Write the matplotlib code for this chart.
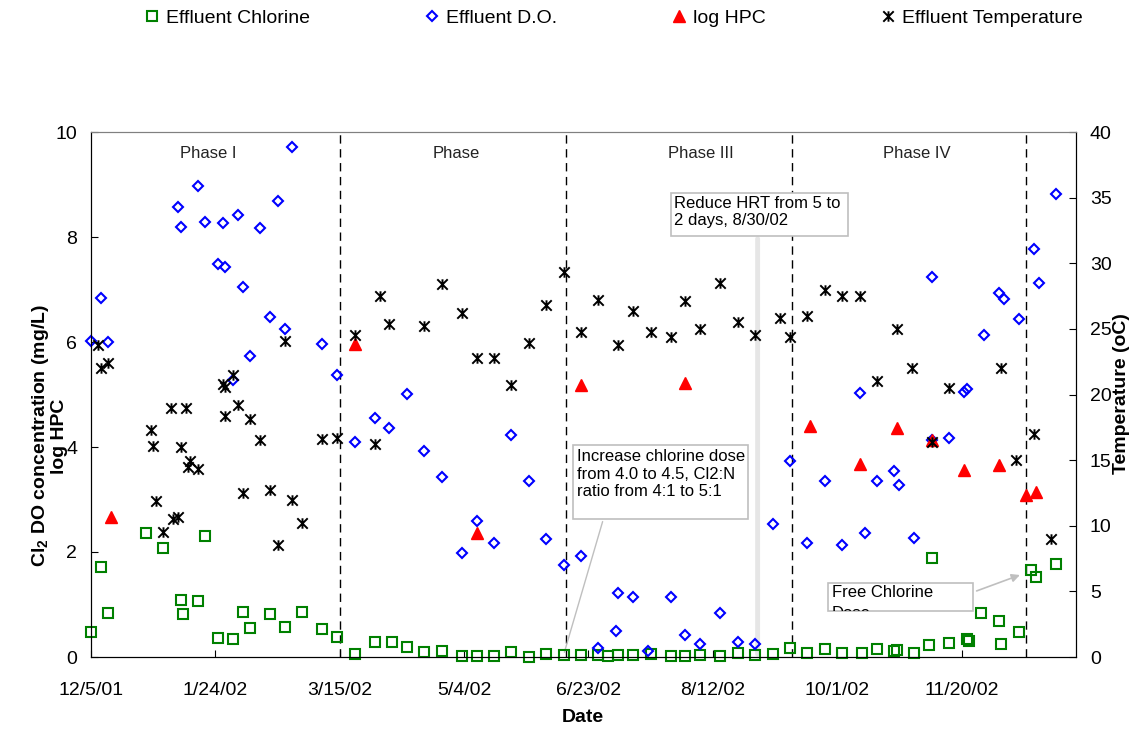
import matplotlib
matplotlib.use('Agg')
import matplotlib.pyplot as plt
from matplotlib.path import Path
from matplotlib.patches import Rectangle
from datetime import datetime

plt.rcParams['font.family'] = ['Liberation Sans', 'DejaVu Sans']
plt.rcParams['mathtext.fontset'] = 'custom'
plt.rcParams['mathtext.rm'] = 'Liberation Sans'
plt.rcParams['mathtext.bf'] = 'Liberation Sans:bold'

# days counted from 12/5/01
start = datetime(2001, 12, 5)
tick_labels = ['12/5/01', '1/24/02', '3/15/02', '5/4/02', '6/23/02', '8/12/02', '10/1/02', '11/20/02']
x_max_day = 396

# Effluent chlorine (mg/L)
chl_day = [0, 4, 7, 22, 29, 36, 37, 43, 46, 51, 57, 61, 64, 72, 78, 85, 93, 99, 106,
           114, 121, 127, 134, 141, 149, 155, 162, 169, 176, 183, 190, 197, 204, 208, 212,
           218, 225, 233, 239, 245, 253, 260, 267, 274, 281, 288, 295, 302, 310, 316, 323,
           324, 331, 337, 338, 345, 352, 353, 358, 365, 366, 373, 378, 380, 388]
chl_val = [0.48, 1.72, 0.84, 2.36, 2.08, 1.08, 0.82, 1.07, 2.30, 0.36, 0.34, 0.85, 0.56,
           0.81, 0.58, 0.86, 0.53, 0.38, 0.05, 0.29, 0.29, 0.20, 0.09, 0.12, 0.02, 0.02,
           0.02, 0.10, 0.00, 0.06, 0.03, 0.03, 0.03, 0.01, 0.03, 0.04, 0.06, 0.02, 0.02,
           0.04, 0.02, 0.07, 0.03, 0.06, 0.18, 0.07, 0.16, 0.07, 0.08, 0.15, 0.11, 0.13,
           0.08, 0.22, 1.89, 0.26, 0.34, 0.30, 0.84, 0.69, 0.24, 0.47, 1.66, 1.52, 1.78]

# Effluent dissolved oxygen (mg/L)
do_day = [0, 4, 7, 35, 36, 43, 46, 51, 53, 54, 57, 59, 61, 64, 68, 72, 75, 78, 81, 93,
          99, 106, 114, 120, 127, 134, 141, 149, 155, 162, 169, 176, 183, 190, 197, 204,
          211, 212, 218, 224, 233, 239, 245, 253, 260, 267, 274, 281, 288, 295, 302, 309,
          311, 316, 323, 325, 331, 338, 338, 345, 351, 352, 359, 365, 367, 373, 379, 381, 388]
do_val = [6.01, 6.84, 6.00, 8.58, 8.20, 8.98, 8.29, 7.49, 8.27, 7.42, 5.28, 8.41, 7.04,
          5.73, 8.17, 6.48, 8.68, 6.25, 9.72, 5.97, 5.37, 4.10, 4.56, 4.36, 5.01, 3.93,
          3.43, 1.98, 2.59, 2.18, 4.23, 3.36, 2.24, 1.75, 1.92, 0.18, 0.50, 1.21, 1.15,
          0.12, 1.14, 0.41, 0.24, 0.84, 0.28, 0.25, 2.54, 3.74, 2.18, 3.35, 2.13, 5.02,
          2.37, 3.36, 3.54, 3.28, 2.27, 4.13, 7.23, 4.18, 5.05, 5.10, 6.13, 6.93, 6.82,
          6.43, 7.77, 7.13, 8.82]

# log heterotrophic plate count
hpc_day = [8, 106, 155, 197, 239, 289, 309, 324, 338, 351, 365, 376, 380]
hpc_val = [2.67, 5.97, 2.37, 5.18, 5.21, 4.40, 3.67, 4.37, 4.13, 3.57, 3.66, 3.09, 3.14]

# Effluent temperature (oC)
temp_day = [3, 4, 7, 24, 25, 26, 29, 32, 33, 35, 36, 38, 39, 40, 43, 53, 54, 54, 57, 59,
            61, 64, 68, 72, 75, 78, 81, 85, 93, 99, 106, 114, 116, 120, 134, 141, 149,
            155, 162, 169, 176, 183, 190, 197, 204, 212, 218, 225, 233, 239, 245, 253,
            260, 267, 277, 281, 288, 295, 302, 309, 316, 324, 330, 338, 345, 366, 372,
            379, 386]
temp_val = [23.8, 22.0, 22.4, 17.3, 16.1, 11.9, 9.5, 19.0, 10.55, 10.7, 16.0, 19.0, 14.5,
            14.9, 14.3, 20.8, 20.6, 18.4, 21.5, 19.2, 12.5, 18.1, 16.5, 12.7, 8.5, 24.1,
            12.0, 10.2, 16.6, 16.7, 24.5, 16.2, 27.5, 25.4, 25.2, 28.4, 26.2, 22.8, 22.8,
            20.7, 23.9, 26.8, 29.35, 24.8, 27.2, 23.8, 26.4, 24.8, 24.4, 27.1, 25.0, 28.5,
            25.5, 24.5, 25.8, 24.4, 26.0, 28.0, 27.5, 27.5, 21.0, 25.0, 22.0, 16.4, 20.5,
            22.0, 15.0, 17.0, 9.0]

phase_day = [100, 191, 282, 376]
phase_names = ['Phase I', 'Phase', 'Phase III', 'Phase IV']
phase_label_day = [47, 147, 245, 332]

star = Path([(0, -1), (0, 1), (-1, -1), (1, 1), (-1, 1), (1, -1)],
            [Path.MOVETO, Path.LINETO, Path.MOVETO, Path.LINETO, Path.MOVETO, Path.LINETO])

fig = plt.figure(figsize=(11.42, 7.32), dpi=100)
ax = fig.add_axes([91 / 1142, 1 - 657 / 732, (1076 - 91) / 1142, (657 - 132) / 732])
ax2 = ax.twinx()
ax.set_zorder(ax2.get_zorder() - 1)
ax.patch.set_visible(False)

h1, = ax.plot(chl_day, chl_val, 's', ms=7.5, mfc='none', mec='#008000', mew=1.5,
              ls='none', label='Effluent Chlorine', clip_on=False, zorder=5)
h2, = ax.plot(do_day, do_val, 'D', ms=4.6, mfc='none', mec='#0000ff', mew=1.5,
              ls='none', label='Effluent D.O.', clip_on=False, zorder=5)
h3, = ax.plot(hpc_day, hpc_val, '^', ms=8.5, color='#ff0000', ls='none', label='log HPC',
              clip_on=False, zorder=5)
h4, = ax2.plot(temp_day, temp_val, marker=star, ms=7.5, mec='black', mew=1.4,
               ls='none', label='Effluent Temperature', clip_on=False)

for d in phase_day:
    ax.axvline(d, color='black', lw=1, ls=(0, (6, 4)), zorder=1)
for d, name in zip(phase_label_day, phase_names):
    ax.text(d, 9.6, name, ha='center', va='center', fontsize=12, color='#222222')

ax.set_xlim(0, x_max_day)
ax.set_ylim(0, 10)
ax2.set_ylim(0, 40)
ax.set_yticks(range(0, 11, 2))
ax2.set_yticks(range(0, 41, 5))
tick_pos = [(datetime.strptime(t, '%m/%d/%y') - start).days for t in tick_labels]
ax.set_xticks(tick_pos)
ax.set_xticklabels(tick_labels)

ax.tick_params(axis='both', direction='in', length=5, labelsize=14, pad=10)
ax.tick_params(axis='x', pad=18)
ax2.tick_params(axis='y', direction='in', length=5, labelsize=14, pad=10)
for a in (ax, ax2):
    a.spines['top'].set_color('#808080')

# annotations
bbox_kw = dict(fill=True, fc='white', ec='#bfbfbf', lw=1.2)
ax.annotate('', xy=(268, 0), xytext=(268, 8.02),
            arrowprops=dict(arrowstyle='-', color='#e6e6e6', lw=3.5), zorder=2)
ax.add_patch(Rectangle((233, 8.02), 71.4, 0.82, zorder=3, **bbox_kw))
ax.text(234.5, 8.78, 'Reduce HRT from 5 to\n2 days, 8/30/02', ha='left', va='top',
        fontsize=12, linespacing=1.2, zorder=4)

ax.annotate('', xy=(190, 0.04), xytext=(206, 2.63),
            arrowprops=dict(arrowstyle='-', color='#bfbfbf', lw=1), zorder=2)
ax.add_patch(Rectangle((193.6, 2.63), 70.7, 1.41, zorder=3, **bbox_kw))
ax.text(195.2, 3.96, 'Increase chlorine dose\nfrom 4.0 to 4.5, Cl2:N\nratio from 4:1 to 5:1',
        ha='left', va='top', fontsize=12, linespacing=1.2, zorder=4)

ax.annotate('', xy=(374.5, 1.58), xytext=(355, 1.24),
            arrowprops=dict(arrowstyle='-|>', color='#bfbfbf', lw=1.2, mutation_scale=12), zorder=2)
fc_box = Rectangle((296.4, 0.88), 58.2, 0.53, zorder=3, **bbox_kw)
ax.add_patch(fc_box)
t = ax.text(297.8, 1.37, 'Free Chlorine\nDose', ha='left', va='top', fontsize=12,
            linespacing=1.5, zorder=4)
t.set_clip_path(fc_box)
t.set_clip_on(True)

fig.text(583 / 1142, 1 - 718 / 732, 'Date', ha='center', va='center', fontsize=14, weight='bold')
fig.text(49 / 1142, 1 - 436 / 732, 'Cl$_\\mathbf{2}$ DO concentration (mg/L)\nlog HPC',
         rotation=90, ha='center', va='center', fontsize=14, weight='bold',
         multialignment='center', linespacing=1.0)
fig.text(1122 / 1142, 1 - 394 / 732, 'Temperature (oC)', rotation=90, ha='center',
         va='center', fontsize=14, weight='bold')

fig.legend([h1, h2, h3, h4], [h.get_label() for h in (h1, h2, h3, h4)],
           loc='center', bbox_to_anchor=(0.538, 1 - 18 / 732), ncol=4, frameon=False,
           fontsize=14, handlelength=0.6, handletextpad=0.4, columnspacing=6.0)

fig.savefig('out.png', dpi=100)
